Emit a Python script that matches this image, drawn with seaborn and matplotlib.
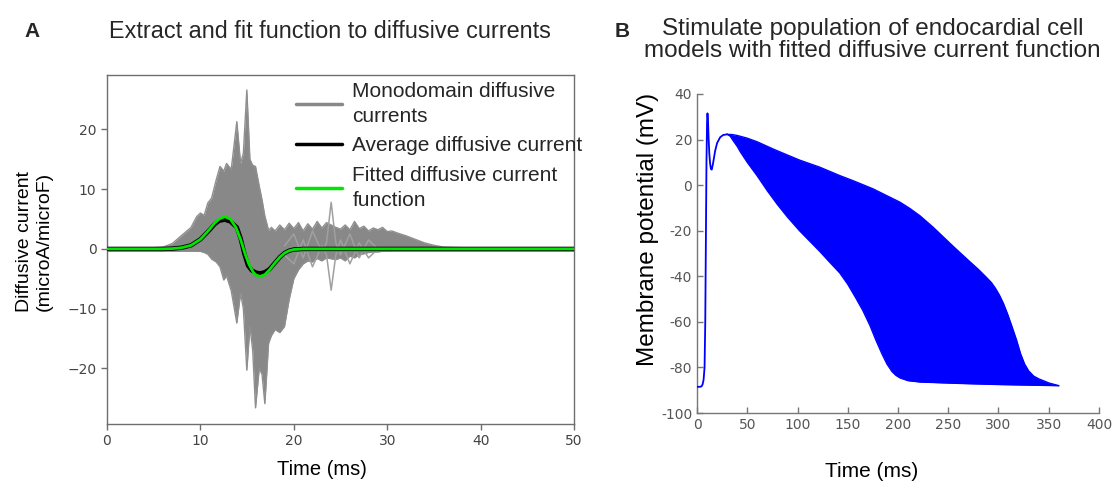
import numpy as np
import pandas as pd
import matplotlib
matplotlib.use("Agg")
import matplotlib.pyplot as plt
from matplotlib.lines import Line2D
import seaborn as sns

# ---------------- Data: panel A ----------------
# envelope of the monodomain diffusive currents (gray traces)
env_time = [0, 5, 6, 7, 7.8, 9, 9.6, 10, 10.4, 10.8, 11.2, 11.7, 12.1, 12.5, 12.8, 13.3,
            13.9, 14.3, 14.6, 14.97, 15.3, 15.6, 15.9, 16.3, 16.6, 16.9, 17.3, 17.6,
            18.0, 18.5, 19.0, 19.5, 20.0, 20.5, 21.0, 21.5, 22.0, 22.5, 23.0, 23.5,
            24.5, 25.0, 25.5, 26.0, 26.5, 27.0, 27.5, 28.0, 28.5, 29.0, 29.5, 30.0,
            30.5, 31.0, 32.0, 33.0, 34.0, 35.0, 36.0, 38.0, 50.0]
env_upper = [0.2, 0.2, 0.3, 0.9, 2.0, 3.6, 5.4, 6.0, 5.6, 7.7, 8.5, 11.6, 13.8, 13.0, 14.3, 13.3,
             21.3, 14.3, 16.0, 26.6, 15.0, 14.0, 13.8, 10.5, 8.2, 5.5, 3.1, 3.6,
             3.0, 4.0, 3.2, 4.3, 3.4, 4.4, 3.0, 4.2, 3.3, 4.6, 3.5, 4.4,
             3.6, 3.3, 4.0, 3.2, 4.6, 3.4, 3.8, 3.0, 3.5, 3.2, 3.6, 2.9,
             3.0, 2.7, 2.2, 1.6, 1.0, 0.6, 0.3, 0.2, 0.2]
env_lower = [0.0, 0.0, 0.0, 0.0, -0.1, -0.2, -0.3, -0.4, -0.6, -0.9, -1.7, -2.2, -3.0, -5.2, -4.5, -7.0,
             -12.4, -7.4, -10.0, -20.3, -13.0, -17.0, -26.6, -20.0, -21.0, -25.9, -15.8, -14.5,
             -13.5, -14.0, -13.0, -8.5, -5.0, -3.5, -2.5, -2.0, -2.2, -1.6, -2.0, -1.5,
             -1.8, -1.5, -2.0, -1.2, -1.5, -1.0, -0.8, -0.6, -0.5, -0.5, -0.4, -0.3,
             -0.3, -0.2, -0.1, 0.0, 0.0, 0.0, 0.0, 0.0, 0.0]

# two outlier traces visible in the tail
out_time = [19, 20, 21, 22, 23, 23.5, 24, 24.5, 25, 26, 27, 28, 29]
out_up = [0.5, 2.5, -1.5, 3.0, -0.5, 1.0, 7.8, 1.0, -1.0, 2.5, -1.5, 1.5, 0.0]
out_down = [-1.0, -2.5, 1.5, -3.0, 0.5, -1.0, -6.9, -1.0, 1.5, -2.5, 1.0, -1.5, 0.0]

# average and fitted diffusive current
avg_time = [0, 6, 7, 8, 9, 10, 11, 11.5, 12, 12.6, 13.2, 13.9, 14.3, 14.7, 15.1, 15.5,
            16.0, 16.4, 16.9, 17.4, 18.0, 18.5, 19.0, 19.5, 20.0, 21.0, 22.0, 50.0]
avg_curr = [0.0, 0.0, 0.05, 0.2, 0.6, 1.6, 3.2, 4.1, 4.7, 4.9, 4.6, 3.6, 1.8, -0.8, -2.8, -3.6,
            -4.0, -4.1, -3.9, -3.4, -2.3, -1.4, -0.7, -0.3, -0.1, 0.0, 0.0, 0.0]
fit_time = [0, 6, 7, 8, 9, 10, 11, 11.5, 12, 12.6, 13.2, 13.8, 14.3, 14.8, 15.2, 15.7,
            16.0, 16.4, 16.9, 17.4, 18.0, 18.5, 19.0, 19.5, 20.0, 21.0, 22.0, 50.0]
fit_curr = [0.0, 0.0, 0.05, 0.2, 0.6, 1.6, 3.3, 4.3, 5.0, 5.4, 5.0, 3.6, 1.6, -0.9, -2.6, -4.0,
            -4.4, -4.6, -4.3, -3.5, -2.3, -1.4, -0.7, -0.3, -0.1, 0.0, 0.0, 0.0]

a_xticks = [0, 10, 20, 30, 40, 50]
a_yticks = [-20, -10, 0, 10, 20]

# ---------------- Data: panel B ----------------
ap_time = [0, 3, 4.5, 5.5, 6.5, 7.5, 8.2, 8.8, 9.4, 10.0, 10.4, 10.9, 11.5, 12.2, 13.0, 13.8,
           14.6, 15.5, 16.5, 18.0, 20.0, 23.0, 26.0, 30.0]
ap_volt = [-88.5, -88.5, -88.3, -87.5, -85.5, -80.0, -60.0, -25.0, 10.0, 28.0, 31.5, 28.5, 21.0, 14.0, 9.5, 7.2,
           6.8, 8.5, 11.0, 15.0, 18.5, 21.0, 22.0, 22.3]

# latest-repolarising cell (upper edge of the population band)
late_time = [30, 35, 40, 50, 60, 76, 90, 102, 122, 142, 155, 175, 202, 212, 222, 235, 255,
             270, 280, 288, 293, 297, 301, 305, 309, 313, 318, 322, 326, 330, 335, 340, 350, 360]
late_volt = [22.3, 22.2, 21.8, 20.6, 19.0, 15.8, 13.2, 11.0, 7.9, 4.2, 2.0, -1.6, -7.5, -10.3, -13.5, -18.5, -26.9,
             -33.0, -37.0, -40.5, -42.8, -45.3, -48.3, -52.0, -56.5, -61.5, -68.0, -74.0, -78.5, -81.5, -83.8,
             -85.0, -86.8, -88.0]
# earliest-repolarising cell (lower edge of the population band)
early_time = [30, 33, 36, 40, 43, 50, 60, 70, 80, 90, 102, 112, 122, 132, 142, 150, 158, 165,
              172, 178, 184, 189, 194, 198, 202, 210, 222, 260, 300, 360]
early_volt = [22.3, 21.5, 19.5, 17.0, 14.7, 10.0, 4.0, -2.5, -8.5, -14.0, -20.0, -24.5, -29.0, -33.8, -38.5, -43.5,
              -49.5, -55.0, -61.5, -68.0, -74.0, -78.5, -81.8, -83.5, -84.6, -85.8, -86.4, -87.0, -87.5, -88.0]

b_xticks = [0, 50, 100, 150, 200, 250, 300, 350, 400]
b_yticks = [-100, -80, -60, -40, -20, 0, 20, 40]
b_yticklabels = ["-100", "-80", "-60", "-40", "-20", "0", "20", "40"]

# ---------------- Styling ----------------
sns.set_theme(style="white")
plt.rcParams["font.family"] = ["Liberation Sans", "DejaVu Sans"]

GRAY = "#888888"
GREEN = "#00e600"
BLUE = "#0000ff"
SPINE = "#6e6e6e"
TICKC = "#444444"

fig = plt.figure(figsize=(11.19, 4.83), dpi=100)
ax1 = fig.add_axes([0.0956, 0.1222, 0.4174, 0.7225])
ax2 = fig.add_axes([0.6229, 0.1449, 0.3592, 0.6605])

# ---------------- Panel A ----------------
ax1.fill_between(env_time, env_lower, env_upper, color=GRAY, linewidth=0, zorder=1)
ax1.plot(env_time, env_upper, color="#8f8f8f", lw=1.0, zorder=1)
ax1.plot(env_time, env_lower, color="#8f8f8f", lw=1.0, zorder=1)
ax1.plot(out_time, out_up, color="#a0a0a0", lw=1.1, zorder=1)
ax1.plot(out_time, out_down, color="#a0a0a0", lw=1.1, zorder=1)
ax1.plot([0, 50], [0, 0], color=GRAY, lw=3.5, zorder=1)

df_avg = pd.DataFrame({"t": avg_time, "v": avg_curr})
df_fit = pd.DataFrame({"t": fit_time, "v": fit_curr})
sns.lineplot(data=df_avg, x="t", y="v", ax=ax1, color="black", lw=3.2, zorder=3)
sns.lineplot(data=df_fit, x="t", y="v", ax=ax1, color=GREEN, lw=2.0, zorder=4)

ax1.set_xlim(0, 50)
ax1.set_ylim(-29.3, 29.1)
ax1.set_xticks(a_xticks)
ax1.set_yticks(a_yticks)
for s in ax1.spines.values():
    s.set_visible(True)
    s.set_color(SPINE)
    s.set_linewidth(1.0)
ax1.tick_params(direction="out", length=4, width=1, color=SPINE, labelcolor=TICKC,
                labelsize=10, bottom=True, left=True)
for lab in ax1.get_xticklabels() + ax1.get_yticklabels():
    lab.set_fontfamily("DejaVu Sans")
ax1.set_xlabel("Time (ms)", fontsize=14.5, color="black")
ax1.xaxis.set_label_coords(0.46, -0.104)
ax1.set_ylabel("Diffusive current\n(microA/microF)", fontsize=14, color="black")
ax1.yaxis.set_label_coords(-0.116, 0.524)

handles = [Line2D([], [], color=GRAY, lw=2.5),
           Line2D([], [], color="black", lw=2.5),
           Line2D([], [], color=GREEN, lw=2.5)]
labels = ["Monodomain diffusive\ncurrents", "Average diffusive current",
          "Fitted diffusive current\nfunction"]
leg = ax1.legend(handles, labels, loc="upper left", bbox_to_anchor=(0.405, 0.98), frameon=False,
                 fontsize=15, handlelength=2.2, handletextpad=0.5, labelspacing=0.5,
                 borderpad=0, borderaxespad=0)
for t in leg.get_texts():
    t.set_linespacing(1.4)

# ---------------- Panel B ----------------
band_grid = np.union1d(late_time, early_time)
band_hi = np.interp(band_grid, late_time, late_volt)
band_lo = np.interp(band_grid, early_time, early_volt)
ax2.fill_between(band_grid, band_lo, band_hi, color=BLUE, linewidth=0, zorder=2)
df_ap = pd.DataFrame({"t": ap_time, "v": ap_volt})
df_late = pd.DataFrame({"t": late_time, "v": late_volt})
df_early = pd.DataFrame({"t": early_time, "v": early_volt})
sns.lineplot(data=df_ap, x="t", y="v", ax=ax2, color=BLUE, lw=1.3, zorder=3)
sns.lineplot(data=df_late, x="t", y="v", ax=ax2, color=BLUE, lw=1.0, zorder=3)
sns.lineplot(data=df_early, x="t", y="v", ax=ax2, color=BLUE, lw=1.0, zorder=3)

ax2.set_xlim(0, 400)
ax2.set_ylim(-100, 40)
ax2.set_xticks(b_xticks)
ax2.set_yticks(b_yticks)
ax2.set_yticklabels(b_yticklabels)
for side in ["top", "right"]:
    ax2.spines[side].set_visible(False)
for side in ["left", "bottom"]:
    ax2.spines[side].set_visible(True)
    ax2.spines[side].set_color("#777777")
    ax2.spines[side].set_linewidth(1.0)
ax2.tick_params(direction="in", length=4, width=1, color="#777777", labelcolor="#555555",
                labelsize=10, bottom=True, left=True)
for lab in ax2.get_xticklabels() + ax2.get_yticklabels():
    lab.set_fontfamily("DejaVu Sans")
ax2.set_xlabel("Time (ms)", fontsize=15, color="black")
ax2.xaxis.set_label_coords(0.435, -0.155)
ax2.set_ylabel("Membrane potential (mV)", fontsize=17.5, color="black")
ax2.yaxis.set_label_coords(-0.095, 0.574)

# ---------------- Titles ----------------
fig.text(0.029, 0.935, "A", fontsize=15, fontweight="bold", ha="center", va="center")
fig.text(0.295, 0.935, "Extract and fit function to diffusive currents", fontsize=16.8,
         ha="center", va="center")
fig.text(0.556, 0.935, "B", fontsize=15, fontweight="bold", ha="center", va="center")
fig.text(0.7795, 0.918, "Stimulate population of endocardial cell\nmodels with fitted diffusive current function",
         fontsize=17.5, ha="center", va="center", linespacing=1.0)

fig.savefig("out.png", dpi=100)
